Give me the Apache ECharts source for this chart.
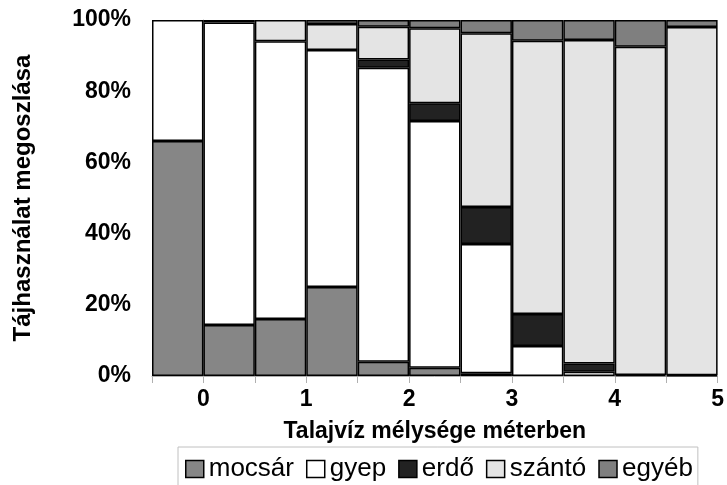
<!DOCTYPE html>
<html>
<head>
<meta charset="utf-8">
<script src="https://cdn.jsdelivr.net/npm/echarts@6/dist/echarts.min.js"></script>
<style>
html,body{margin:0;padding:0;background:#fff;}
#chart{width:727px;height:485px;}
</style>
</head>
<body>
<div id="chart"></div>
<script>
// 11 depth classes, each 0.5 m wide, from -0.5 m to 5 m
const categories = ['-0.5–0','0–0.5','0.5–1','1–1.5','1.5–2','2–2.5','2.5–3','3–3.5','3.5–4','4–4.5','4.5–5'];
const seriesNames = ['mocsár','gyep','erdő','szántó','egyéb'];
const mocsar = [66, 14.3, 16, 25, 4, 2.3, 0.8, 0, 0, 0, 0];
const gyep   = [34, 85, 78, 66.6, 82.6, 69.3, 36.3, 8.4, 1.2, 0.3, 0.2];
const erdo   = [0, 0.7, 0, 0, 2.3, 5, 10.4, 9, 2.3, 0, 0];
const szanto = [0, 0, 6, 7.3, 9.2, 21.1, 48.8, 76.8, 90.9, 92.2, 97.8];
const egyeb  = [0, 0, 0, 1.1, 1.9, 2.3, 3.7, 5.8, 5.6, 7.5, 2];
const yTicks = [0, 20, 40, 60, 80, 100];
const xTicks = [0, 1, 2, 3, 4, 5];

const values = [mocsar, gyep, erdo, szanto, egyeb];
const colors = ['#868686', '#ffffff', '#222222', '#e4e4e4', '#7f7f7f'];

const chart = echarts.init(document.getElementById('chart'));
const FONT = 'Liberation Sans, Arial, sans-serif';

chart.setOption({
  animation: false,
  grid: {left: 152, right: 4, top: 20, bottom: 109, containLabel: false},
  legend: {
    data: seriesNames,
    left: 178, top: 447,
    padding: [9, 5, 12, 7],
    itemGap: 12,
    itemWidth: 18, itemHeight: 17,
    icon: 'rect',
    borderColor: '#c0c0c0', borderWidth: 1,
    textStyle: {fontFamily: FONT, fontSize: 26, color: '#000'},
    itemStyle: {borderColor: '#000', borderWidth: 1.5}
  },
  xAxis: [
    {type: 'category', data: categories, show: false, boundaryGap: true},
    {type: 'value', min: -0.5, max: 5, interval: 0.5, position: 'bottom',
     axisLine: {show: true, lineStyle: {color: '#b0b0b0', width: 1}},
     axisTick: {show: true, length: 7, lineStyle: {color: '#b0b0b0'}},
     splitLine: {show: false},
     axisLabel: {
       margin: 12, color: '#000', fontFamily: FONT, fontWeight: 'bold', fontSize: 23,
       formatter: v => xTicks.includes(Math.round(v * 100) / 100) ? String(Math.round(v)) : ''
     },
     name: 'Talajvíz mélysége méterben', nameLocation: 'middle', nameGap: 44,
     nameTextStyle: {color: '#000', fontFamily: FONT, fontWeight: 'bold', fontSize: 23}
    }
  ],
  yAxis: {
    type: 'value', min: 0, max: 100, interval: 20,
    axisLine: {show: true, lineStyle: {color: '#b0b0b0'}},
    axisTick: {show: true, length: 7, lineStyle: {color: '#b0b0b0'}},
    splitLine: {show: false},
    axisLabel: {margin: 21, color: '#000', fontFamily: FONT, fontWeight: 'bold', fontSize: 23,
      formatter: v => yTicks.includes(v) ? v + '%' : ''},
    name: 'Tájhasználat megoszlása', nameLocation: 'middle', nameGap: 117, nameRotate: 90,
    nameTextStyle: {color: '#000', fontFamily: FONT, fontWeight: 'bold', fontSize: 24}
  },
  series: seriesNames.map((name, i) => ({
    name, type: 'bar', stack: 'total', xAxisIndex: 0,
    barWidth: '100%', barCategoryGap: 0,
    data: values[i].map(v => v === 0 ? null : v),
    itemStyle: {color: colors[i], borderColor: '#000', borderWidth: 1.5}
  }))
});
</script>
</body>
</html>
